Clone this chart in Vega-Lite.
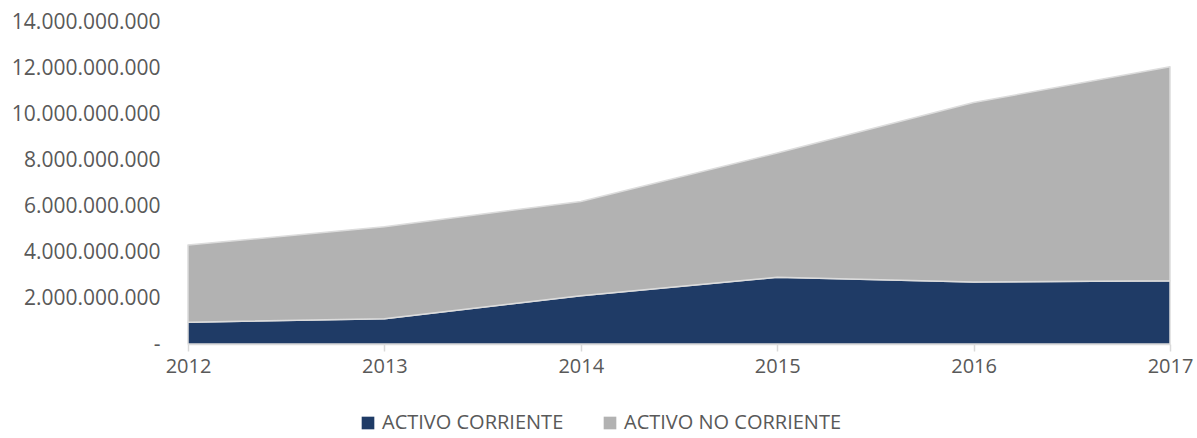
{
  "$schema": "https://vega.github.io/schema/vega-lite/v6.json",
  "width": 982,
  "height": 322,
  "autosize": {"type": "none"},
  "padding": {"left": 188, "top": 22, "right": 27, "bottom": 94},
  "background": "white",
  "config": {
    "view": {"stroke": null},
    "font": "Open Sans",
    "axis": {"labelFont": "Open Sans", "labelColor": "#595959", "labelFontSize": 20, "grid": false},
    "legend": {"labelFont": "Open Sans", "labelColor": "#595959", "labelFontSize": 20, "labelLimit": 400}
  },
  "data": {
    "values": [
      {"year": 2012, "serie": "ACTIVO CORRIENTE", "valor": 950000000},
      {"year": 2013, "serie": "ACTIVO CORRIENTE", "valor": 1100000000},
      {"year": 2014, "serie": "ACTIVO CORRIENTE", "valor": 2100000000},
      {"year": 2015, "serie": "ACTIVO CORRIENTE", "valor": 2900000000},
      {"year": 2016, "serie": "ACTIVO CORRIENTE", "valor": 2700000000},
      {"year": 2017, "serie": "ACTIVO CORRIENTE", "valor": 2750000000},
      {"year": 2012, "serie": "ACTIVO NO CORRIENTE", "valor": 3350000000},
      {"year": 2013, "serie": "ACTIVO NO CORRIENTE", "valor": 4000000000},
      {"year": 2014, "serie": "ACTIVO NO CORRIENTE", "valor": 4100000000},
      {"year": 2015, "serie": "ACTIVO NO CORRIENTE", "valor": 5400000000},
      {"year": 2016, "serie": "ACTIVO NO CORRIENTE", "valor": 7800000000},
      {"year": 2017, "serie": "ACTIVO NO CORRIENTE", "valor": 9300000000}
    ]
  },
  "mark": {"type": "area", "stroke": "#dcdcdc", "strokeWidth": 1.5, "strokeJoin": "round", "opacity": 1},
  "encoding": {
    "x": {
      "field": "year",
      "type": "quantitative",
      "scale": {"domain": [2012, 2017], "nice": false, "zero": false},
      "axis": {
        "title": null,
        "values": [2012, 2013, 2014, 2015, 2016, 2017],
        "format": "d",
        "domainColor": "#d9d9d9",
        "domainWidth": 1.5,
        "tickColor": "#d9d9d9",
        "tickSize": 7,
        "tickWidth": 1.5,
        "labelPadding": 5,
        "labelFlush": false
      }
    },
    "y": {
      "field": "valor",
      "type": "quantitative",
      "stack": "zero",
      "scale": {"domain": [0, 14000000000], "nice": false},
      "axis": {
        "title": null,
        "values": [0, 2000000000, 4000000000, 6000000000, 8000000000, 10000000000, 12000000000, 14000000000],
        "labelExpr": "datum.value == 0 ? '-' : replace(format(datum.value, ',d'), /,/g, '.')",
        "labelFontSize": 21,
        "domain": false,
        "ticks": false,
        "labelPadding": 28
      }
    },
    "order": {"field": "serie", "sort": "ascending"},
    "color": {
      "field": "serie",
      "type": "nominal",
      "scale": {"domain": ["ACTIVO CORRIENTE", "ACTIVO NO CORRIENTE"], "range": ["#1f3b66", "#b2b2b2"]},
      "legend": {
        "title": null,
        "orient": "none",
        "direction": "horizontal",
        "legendX": 170,
        "legendY": 391,
        "symbolType": "square",
        "symbolSize": 160,
        "symbolStrokeWidth": 0,
        "labelOffset": 4,
        "columnPadding": 36
      }
    }
  }
}
